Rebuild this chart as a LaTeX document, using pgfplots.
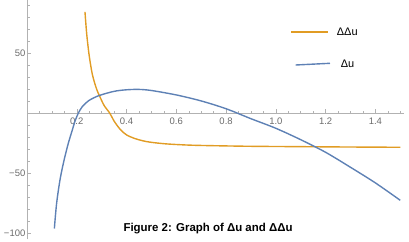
\documentclass[border=0pt]{standalone}
\usepackage{pgfplots}
\pgfplotsset{compat=1.18}
\usepackage{fontspec}
\setmainfont{Liberation Sans}
\definecolor{mblue}{rgb}{0.368417,0.506779,0.709798}
\definecolor{morange}{rgb}{0.880722,0.611041,0.142051}
\definecolor{axgray}{gray}{0.70}
\definecolor{labgray}{gray}{0.42}
\begin{document}
\begin{tikzpicture}[x=1bp,y=1bp]
\begin{axis}[
  at={(27bp,2.7bp)}, anchor=south west,
  scale only axis, width=377bp, height=238.8bp,
  xmin=0, xmax=1.515, ymin=-105, ymax=94,
  axis lines=middle,
  axis line style={-, draw=axgray, line width=0.5pt},
  tick style={draw=axgray, line width=0.5pt},
  tick align=inside,
  major tick length=4bp, minor tick length=2.5bp,
  xtick={0.2,0.4,0.6,0.8,1.0,1.2,1.4},
  xticklabels={0.2,0.4,0.6,0.8,1.0,1.2,1.4},
  minor xtick={0.05,0.1,...,1.51},
  ytick={-100,-50,50},
  yticklabels={−100,−50,50},
  minor ytick={-100,-90,...,90},
  ticklabel style={font=\fontsize{9.5}{10}\selectfont, text=labgray},
  xticklabel style={yshift=-1bp},
  yticklabel style={inner sep=1.5bp},
  clip=false,
]
\addplot[morange, line width=1.4pt, smooth, tension=0.5] coordinates {
(0.233,84.5) (0.240,66) (0.250,48) (0.263,32) (0.280,20) (0.293,13.8)
(0.310,6.5) (0.333,0) (0.350,-6.5) (0.375,-13.5) (0.400,-18) (0.433,-21)
(0.467,-23) (0.50,-24.2) (0.56,-25.5) (0.65,-26.5) (0.75,-27) (0.9,-27.5)
(1.1,-27.8) (1.3,-28.1) (1.5,-28.3)
};
\addplot[mblue, line width=1.4pt, smooth, tension=0.5] coordinates {
(0.110,-96) (0.119,-75) (0.133,-55) (0.149,-39) (0.166,-25) (0.182,-14)
(0.193,-6.5) (0.206,0) (0.222,5.5) (0.25,10.8) (0.29,14.8) (0.35,18.3)
(0.40,19.6) (0.45,19.9) (0.50,19.0) (0.60,15.3) (0.70,10.3) (0.80,3.8)
(0.90,-4.5) (1.0,-12.5) (1.1,-22) (1.2,-32.5) (1.3,-45) (1.4,-58) (1.50,-72.5)
};
\end{axis}
\fill[morange] (291.3,209.4) rectangle (328,211.0);
\node[anchor=west, inner sep=0pt, font=\fontsize{11}{12}\selectfont] at (336.7,210.3) {ΔΔu};
\draw[mblue, line width=1.4pt] (295.7,177) -- (330,178.7);
\node[anchor=west, inner sep=0pt, font=\fontsize{11}{12}\selectfont] at (340.7,178) {Δu};
\node[font=\bfseries\fontsize{11.5}{12}\selectfont] at (208,13) {Figure 2: Graph of Δu and ΔΔu};
\pgfresetboundingbox
\useasboundingbox (0,0) rectangle (409,242);
\end{tikzpicture}
\end{document}
